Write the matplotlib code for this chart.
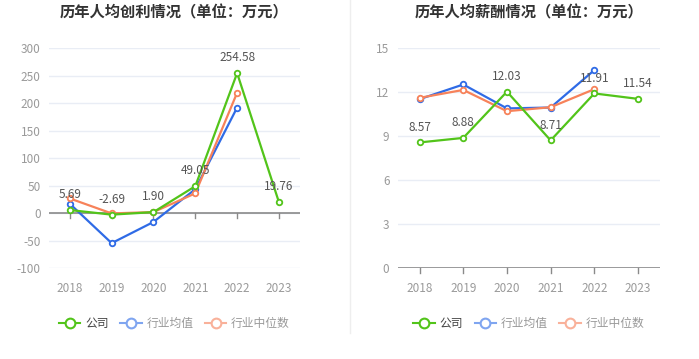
import matplotlib.pyplot as plt
from matplotlib.lines import Line2D

plt.rcParams['font.family'] = ['Noto Sans CJK SC', 'DejaVu Sans']

years = ['2018', '2019', '2020', '2021', '2022', '2023']

profit_company = [5.69, -2.69, 1.90, 49.05, 254.58, 19.76]
profit_avg = [17, -54.5, -16, 43.6, 192]
profit_median = [26.7, -0.5, 2, 36, 219]

salary_company = [8.57, 8.88, 12.03, 8.71, 11.91, 11.54]
salary_avg = [11.52, 12.52, 10.89, 10.95, 13.5]
salary_median = [11.61, 12.15, 10.7, 10.97, 12.2]

GREEN = '#52c41a'
BLUE = '#2f6be6'
ORANGE = '#f7825a'
names = ['公司', '行业均值', '行业中位数']


def draw(ax, title, comp, avg, med, ylim, yticks):
    xs = list(range(len(years)))
    ax.set_xlim(-0.5, len(years) - 0.5)
    ax.set_ylim(*ylim)
    ax.set_yticks(yticks)
    ax.set_yticklabels([str(t) for t in yticks])
    ax.set_xticks(xs)
    ax.set_xticklabels(years)
    ax.grid(axis='y', color='#e9edf5', linewidth=1)
    ax.set_axisbelow(True)
    for s in ['top', 'right', 'left', 'bottom']:
        ax.spines[s].set_visible(False)
    ax.axhline(0, color='#8a8a8a', linewidth=1.2, zorder=1)
    for x in xs:
        ax.plot([x, x], [0, -(ylim[1] - ylim[0]) * 0.022], color='#8a8a8a',
                linewidth=1, clip_on=False, zorder=1)
    ax.tick_params(axis='both', length=0, colors='#9a9a9a', labelsize=8.5, pad=6)
    ax.tick_params(axis='x', pad=10)

    kw = dict(marker='o', markersize=4, markerfacecolor='white',
              markeredgewidth=1.3, linewidth=1.6)
    ax.plot(xs[:len(avg)], avg, color=BLUE, zorder=3, **kw)
    ax.plot(xs[:len(med)], med, color=ORANGE, zorder=3, **kw)
    ax.plot(xs, comp, color=GREEN, zorder=4, **kw)
    off = (ylim[1] - ylim[0]) * 0.04
    for x, v in zip(xs, comp):
        ax.text(x, v + off, f'{v:.2f}', ha='center', va='bottom',
                fontsize=8.5, color='#555555', zorder=5)
    ax.set_title(title, fontsize=11, fontweight='bold', color='#333333', pad=22)

    handles = [
        Line2D([], [], color=GREEN, marker='o', markersize=7,
               markerfacecolor='white', markeredgewidth=1.5, linewidth=1.5),
        Line2D([], [], color='#7fa5f0', marker='o', markersize=7,
               markerfacecolor='white', markeredgewidth=1.5, linewidth=1.5),
        Line2D([], [], color='#f9b19a', marker='o', markersize=7,
               markerfacecolor='white', markeredgewidth=1.5, linewidth=1.5),
    ]
    leg = ax.legend(handles, names, loc='upper center', bbox_to_anchor=(0.5, -0.175),
                    ncol=3, frameon=False, fontsize=8.5, handlelength=1.8,
                    columnspacing=1.0, handletextpad=0.4)
    for i, t in enumerate(leg.get_texts()):
        t.set_color('#444444' if i == 0 else '#999999')


fig = plt.figure(figsize=(6.99, 3.59), dpi=100)
ax1 = fig.add_axes([0.070, 0.253, 0.359, 0.613])
ax2 = fig.add_axes([0.569, 0.253, 0.375, 0.613])

draw(ax1, '历年人均创利情况（单位：万元）', profit_company, profit_avg, profit_median,
     (-100, 300), [-100, -50, 0, 50, 100, 150, 200, 250, 300])
draw(ax2, '历年人均薪酬情况（单位：万元）', salary_company, salary_avg, salary_median,
     (0, 15), [0, 3, 6, 9, 12, 15])

fig.add_artist(Line2D([0.5, 0.5], [1 - 333 / 359, 1.0], color='#eeeeee',
                      linewidth=1, transform=fig.transFigure))

fig.savefig('out.png', dpi=100)
